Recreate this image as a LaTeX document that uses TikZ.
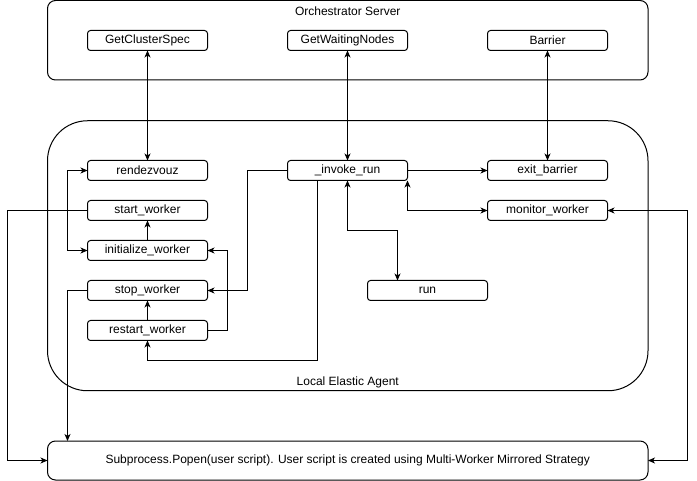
\documentclass[tikz,border=0pt]{standalone}
\usepackage{fontspec}
\setmainfont{Liberation Sans}
\usetikzlibrary{positioning,arrows.meta}

\tikzset{
	func/.style={draw, rounded corners=3pt, minimum width=120pt, minimum height=20pt, inner sep=0pt, outer sep=0pt, line width=1pt},
	group/.style={draw, outer sep=0pt, line width=1pt, minimum width=600.5pt},
	link/.style={line width=1pt, >={Stealth[length=7pt,width=6pt,inset=2pt]}},
	title/.style={inner sep=0pt}
}

\begin{document}
\begin{tikzpicture}[x=1pt, y=-1pt, font=\fontsize{12}{14}\selectfont]
	\useasboundingbox (0,0) rectangle (697,481);
	
	\node[group, rounded corners=8pt, minimum height=79.5pt](orch) at (347.75,40.25){};
	\node[group, rounded corners=40pt, minimum height=270pt](agent) at (347.75,255.75){};
	\node[group, rounded corners=8pt, minimum height=39pt](popen) at (347.75,460.5){Subprocess.Popen(user script). User script is created using Multi-Worker Mirrored Strategy};
	\node[title, below = 6pt of orch.north](orch_title){Orchestrator Server};
	\node[title, above = 3pt of agent.south](agent_title){Local Elastic Agent};
	
	\node[func](get_cluster_spec) at (147.5,40.5){GetClusterSpec};
	\node[func, right = 80pt of get_cluster_spec](get_waiting_nodes){GetWaitingNodes};
	\node[func, right = 80pt of get_waiting_nodes](barrier){Barrier};
	
	\node[func](rendezvouz) at (147.5,170.5){rendezvouz};
	\node[func, below = 20pt of rendezvouz](start_worker){start\_worker};
	\node[func, below = 20pt of start_worker](init_worker){initialize\_worker};
	\node[func, below = 20pt of init_worker](stop_worker){stop\_worker};
	\node[func, below = 20pt of stop_worker](restart_worker){restart\_worker};
	\node[func, right = 80pt of rendezvouz](invoke_run){\_invoke\_run};
	\node[func, right = 80pt of invoke_run](exit_barrier){exit\_barrier};
	\node[func, below = 20pt of exit_barrier](monitor_worker){monitor\_worker};
	\node[func, below = 100pt of invoke_run, xshift = 80pt](run){run};
	
	\draw[link, <->] (get_cluster_spec) -- (rendezvouz);
	\draw[link, <->] (get_waiting_nodes) -- (invoke_run);
	\draw[link, <->] (barrier) -- (exit_barrier);
	\draw[link, <->] (rendezvouz.west) -- ++(-20,0) |- (init_worker.west);
	\draw[link, ->] (init_worker) -- (start_worker);
	\draw[link, ->] (restart_worker) -- (stop_worker);
	\draw[link, ->] (restart_worker.east) -- ++(20,0) |- (init_worker.east);
	\draw[link, ->] (invoke_run.west) -- ++(-40,0) |- (stop_worker.east);
	\draw[link, ->] ([xshift=-30pt]invoke_run.south) -- ++(0,180) -| (restart_worker.south);
	\draw[link, <->] (invoke_run.south) -- ++(0,50) -| ([xshift=-30pt]run.north);
	\draw[link, <->] (invoke_run.south east) |- (monitor_worker.west);
	\draw[link, ->] (invoke_run) -- (exit_barrier);
	\draw[link, ->] (start_worker.west) -- ++(-80,0) |- (popen.west);
	\draw[link, ->] (stop_worker.west) -- ++(-20,0) coordinate (stop_turn) -- (stop_turn |- popen.north);
	\draw[link, <->] (monitor_worker.east) -- ++(80,0) |- (popen.east);
\end{tikzpicture}
\end{document}
